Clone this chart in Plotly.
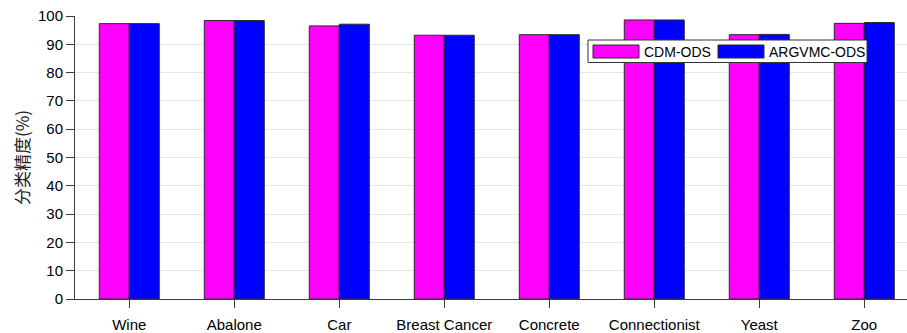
import plotly.graph_objects as go

# Classification accuracy (%) per dataset for the two methods
datasets = ["Wine", "Abalone", "Car", "Breast Cancer", "Concrete",
            "Connectionist", "Yeast", "Zoo"]
cdm_ods = [97.3, 98.4, 96.5, 93.2, 93.4, 98.6, 93.4, 97.4]
argvmc_ods = [97.3, 98.4, 97.1, 93.2, 93.4, 98.6, 93.5, 97.7]
series_names = ["CDM-ODS", "ARGVMC-ODS"]
series_colors = ["#ff00ff", "#0000ff"]
y_ticks = list(range(0, 101, 10))

FONT = "Liberation Sans, Arial, sans-serif"
AXIS_COLOR = "#3c3c3c"

fig = go.Figure()
for name, vals, color in zip(series_names, [cdm_ods, argvmc_ods], series_colors):
    fig.add_trace(go.Bar(
        x=datasets, y=vals, name=name,
        marker=dict(color=color, line=dict(color="#2a2a2a", width=1)),
        showlegend=False,
    ))

# Legend box drawn in paper coordinates with wide colour swatches
W, H = 907, 333
ml, mr, mt, mb = 75, 0, 16, 34
pw, ph = W - ml - mr, H - mt - mb


def px(x):
    return (x - ml) / pw


def py(y):
    return 1 - (y - mt) / ph


shapes = [dict(type="rect", xref="paper", yref="paper",
               x0=px(588), x1=px(867), y0=py(62.5), y1=py(40),
               fillcolor="white", line=dict(color="#333333", width=1),
               layer="above")]
swatches = [(593, 639, 642), (718, 764, 767)]
annotations = []
for (x0, x1, tx), name, color in zip(swatches, series_names, series_colors):
    shapes.append(dict(type="rect", xref="paper", yref="paper",
                       x0=px(x0), x1=px(x1), y0=py(58), y1=py(45),
                       fillcolor=color, line=dict(color="#2a2a2a", width=1),
                       layer="above"))
    annotations.append(dict(xref="paper", yref="paper", x=px(tx), y=py(51.5),
                            text=name, showarrow=False, xanchor="left",
                            yanchor="middle",
                            font=dict(family=FONT, size=14, color="black")))

fig.update_layout(
    width=W, height=H,
    margin=dict(l=ml, r=mr, t=mt, b=mb, pad=0),
    paper_bgcolor="white", plot_bgcolor="white",
    barmode="group", bargap=1 - 60 / 105, bargroupgap=0,
    shapes=shapes, annotations=annotations,
    font=dict(family=FONT, size=15, color="black"),
)
fig.update_xaxes(
    range=[-0.517, 7.407], showline=True, linecolor=AXIS_COLOR, linewidth=1,
    ticks="outside", ticklen=8, tickcolor=AXIS_COLOR, tickwidth=1,
    showgrid=False, zeroline=False, ticklabelstandoff=4,
    tickfont=dict(family=FONT, size=15, color="black"),
)
fig.update_yaxes(
    range=[0, 100], tickvals=y_ticks, showline=True, linecolor=AXIS_COLOR,
    linewidth=1, ticks="outside", ticklen=8, tickcolor=AXIS_COLOR,
    tickwidth=1, showgrid=True, gridcolor="#e6e6e6", gridwidth=1,
    zeroline=False, tickfont=dict(family=FONT, size=15, color="black"),
    title=dict(text="分类精度(%)", standoff=4,
               font=dict(family="Noto Sans CJK SC", size=17, color="#222222")),
)

fig.write_html("out.html")
